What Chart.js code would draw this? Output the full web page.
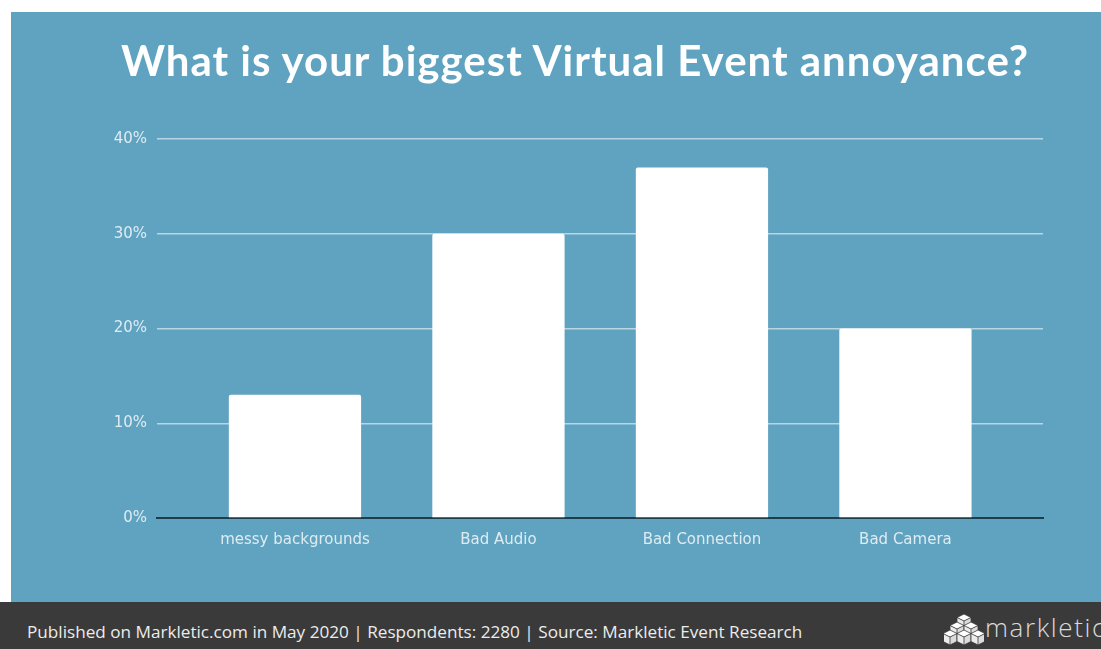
<!DOCTYPE html>
<html>
<head>
<meta charset="utf-8">
<script src="https://cdn.jsdelivr.net/npm/chart.js@4.4.1/dist/chart.umd.min.js"></script>
<style>
  html, body { margin: 0; padding: 0; background: #ffffff; overflow: hidden; }
  body { width: 1101px; height: 649px; position: relative; }
  #panel { position: absolute; left: 11px; top: 12px; width: 1090px; height: 590px; background: #5fa3c1; }
  #title { position: absolute; left: 0; top: 0; width: 1128px; text-align: center;
           font-family: Lato, sans-serif; font-weight: 700; font-size: 42px; letter-spacing: 1px;
           color: #ffffff; line-height: 50px; padding-top: 23px; white-space: nowrap; }
  #chart { position: absolute; left: 0; top: 0; width: 1090px; height: 590px; }
  #footer { position: absolute; left: 0; top: 602px; width: 1101px; height: 47px; background: #3a3a3a; }
  #source { position: absolute; left: 27px; top: 18px; font-family: "Open Sans", sans-serif;
            font-size: 17.15px; color: #ececec; white-space: nowrap; line-height: 24px; }
  #brand { position: absolute; left: 944px; top: 8px; width: 200px; height: 36px; white-space: nowrap; }
  #brand svg { position: absolute; left: 0; top: 2px; }
  #brand span { position: absolute; left: 41px; top: 0px; font-family: "Open Sans", sans-serif;
                font-weight: 300; font-size: 26px; letter-spacing: 1.6px; color: #dadada; line-height: 34px; }
</style>
</head>
<body>
<div id="panel">
  <canvas id="chart" width="1090" height="590"></canvas>
  <div id="title">What is your biggest Virtual Event annoyance?</div>
</div>
<div id="footer">
  <div id="source">Published on Markletic.com in May 2020 | Respondents: 2280 | Source: Markletic Event Research</div>
  <div id="brand">
    <svg width="40" height="34" viewBox="0 0 40 34">
      <defs>
        <g id="cube">
          <path d="M0 -6 L7 -2.5 L0 1 L-7 -2.5 Z" fill="#ffffff"/>
          <path d="M-7 -2.5 L0 1 L0 9 L-7 5.5 Z" fill="#ececec"/>
          <path d="M0 1 L7 -2.5 L7 5.5 L0 9 Z" fill="#dcdcdc"/>
          <path d="M0 -6 L7 -2.5 L7 5.5 L0 9 L-7 5.5 L-7 -2.5 Z M-7 -2.5 L0 1 L7 -2.5 M0 1 L0 9"
                fill="none" stroke="#3a3a3a" stroke-width="0.8" stroke-linejoin="round"/>
        </g>
      </defs>
      <use href="#cube" x="20" y="8"/>
      <use href="#cube" x="13" y="16"/>
      <use href="#cube" x="27" y="16"/>
      <use href="#cube" x="6" y="24"/>
      <use href="#cube" x="20" y="24"/>
      <use href="#cube" x="34" y="24"/>
    </svg>
    <span>markletic</span>
  </div>
</div>
<script>
// Survey answers and their share of respondents (percent)
const categories = ["messy backgrounds", "Bad Audio", "Bad Connection", "Bad Camera"];
const shares = [13, 30, 37, 20];
const yTicks = [0, 10, 20, 30, 40];

const tickColor = "#deecf2";
const tickFont = { family: "'DejaVu Sans', Verdana, sans-serif", size: 15 };

new Chart(document.getElementById("chart"), {
  type: "bar",
  data: {
    datasets: [{
      data: categories.map((c, i) => ({ x: i, y: shares[i] })),
      backgroundColor: "#ffffff",
      borderWidth: 0,
      borderRadius: 2,
      categoryPercentage: 1,
      barPercentage: 0.65
    }]
  },
  options: {
    responsive: false,
    animation: false,
    layout: { padding: { top: 127, right: 58, left: 0, bottom: 0 } },
    plugins: { legend: { display: false }, tooltip: { enabled: false }, title: { display: false } },
    scales: {
      x: {
        type: "linear",
        offset: false,
        min: -0.678,
        max: 3.676,
        afterBuildTicks: s => { s.ticks = categories.map((c, i) => ({ value: i })); },
        afterFit: s => { s.height = 84; },
        ticks: {
          callback: v => categories[v],
          color: tickColor,
          font: tickFont,
          padding: 13,
          maxRotation: 0,
          autoSkip: false
        },
        grid: { display: false, drawTicks: false, offset: false },
        border: { display: true, color: "#1e3d4a", width: 2 }
      },
      y: {
        min: 0,
        max: 40,
        afterBuildTicks: s => { s.ticks = yTicks.map(v => ({ value: v })); },
        afterFit: s => { s.width = 146; },
        ticks: {
          callback: v => v + "%",
          color: tickColor,
          font: tickFont,
          padding: 10
        },
        grid: {
          drawTicks: false,
          lineWidth: 1.5,
          color: ctx => (ctx.tick && ctx.tick.value === 0) ? "rgba(0,0,0,0)" : "rgba(255,255,255,0.55)"
        },
        border: { display: false }
      }
    }
  }
});
</script>
</body>
</html>
